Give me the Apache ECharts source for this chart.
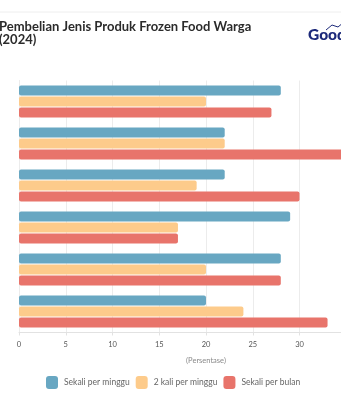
<!DOCTYPE html>
<html>
<head>
<meta charset="utf-8">
<script src="https://cdn.jsdelivr.net/npm/echarts@6/dist/echarts.min.js"></script>
<style>
  html, body { margin: 0; padding: 0; background: #fff; overflow: hidden; }
  #wrap { position: relative; width: 341px; height: 400px; overflow: hidden; }
  #chart { position: absolute; left: 0; top: 0; width: 430px; height: 400px; }
</style>
</head>
<body>
<div id="wrap"><div id="chart"></div></div>
<script>
// Purchase frequency of frozen food products (percent of respondents)
const categories = ['Produk 1', 'Produk 2', 'Produk 3', 'Produk 4', 'Produk 5', 'Produk 6'];
const seriesNames = ['Sekali per minggu', '2 kali per minggu', 'Sekali per bulan'];
const sekaliPerMinggu = [28, 22, 22, 29, 28, 20];
const duaKaliPerMinggu = [20, 22, 19, 17, 20, 24];
const sekaliPerBulan = [27, 35, 30, 17, 28, 33];
const xTicks = [0, 5, 10, 15, 20, 25, 30, 35, 40];

const colors = ['#68a7c2', '#fdcb8b', '#e8746b'];
const values = [sekaliPerMinggu, duaKaliPerMinggu, sekaliPerBulan];

const chart = echarts.init(document.getElementById('chart'), null, { renderer: 'canvas' });

chart.setOption({
  animation: false,
  textStyle: { fontFamily: 'Lato, "Open Sans", sans-serif' },
  title: {
    text: 'Pembelian Jenis Produk Frozen Food Warga\n(2024)',
    left: -6,
    top: 16,
    textStyle: {
      fontFamily: 'Lato, sans-serif',
      fontSize: 13,
      fontWeight: 'bold',
      color: '#2b2b2b',
      lineHeight: 12.5
    }
  },
  graphic: [
    { type: 'line', shape: { x1: 0, y1: 12, x2: 430, y2: 12 }, style: { stroke: '#eeeeee', lineWidth: 1 } },
    {
      type: 'text', left: 308, top: 27,
      style: { text: 'GoodStats', fill: '#1d2a7a', font: '900 15.5px Lato, sans-serif' }
    },
    {
      type: 'polyline', shape: { points: [[326, 30], [332, 25], [338, 27], [344, 22]] },
      style: { stroke: '#1d2a7a', lineWidth: 1, fill: null }
    }
  ],
  legend: {
    data: seriesNames,
    left: 41,
    top: 371,
    itemWidth: 12,
    itemHeight: 13,
    itemGap: 6,
    icon: 'roundRect',
    textStyle: { fontSize: 8.5, color: '#666', padding: [0, 0, 0, 1] }
  },
  grid: { left: 19, top: 80.5, width: 374, height: 252, containLabel: false },
  xAxis: {
    type: 'value',
    min: xTicks[0],
    max: xTicks[xTicks.length - 1],
    interval: 5,
    name: '(Persentase)',
    nameLocation: 'middle',
    nameGap: 24,
    nameTextStyle: { fontSize: 7.5, color: '#8a8a8a' },
    axisLine: { show: true, lineStyle: { color: '#e2e2e2' } },
    axisTick: { show: true, length: 3, lineStyle: { color: '#e2e2e2' } },
    axisLabel: { fontSize: 7.5, color: '#555', margin: 8 },
    splitLine: { show: true, lineStyle: { color: '#ececec' } }
  },
  yAxis: {
    type: 'category',
    data: categories,
    inverse: true,
    axisLine: { show: true, lineStyle: { color: '#ececec' } },
    axisTick: { show: false },
    axisLabel: { show: false },
    splitLine: { show: false }
  },
  series: seriesNames.map((name, i) => ({
    name,
    type: 'bar',
    data: values[i],
    barWidth: 10,
    barGap: '10%',
    itemStyle: { color: colors[i], borderRadius: 2 }
  }))
});
</script>
</body>
</html>
